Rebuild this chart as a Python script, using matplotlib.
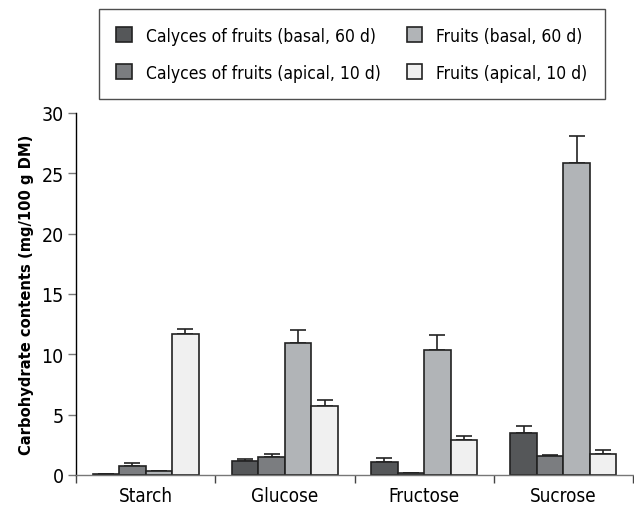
import matplotlib
matplotlib.use('Agg')
import matplotlib.pyplot as plt
import numpy as np

plt.rcParams['font.family'] = ['DejaVu Sans']
plt.rcParams['font.stretch'] = 'condensed'

categories = ['Starch', 'Glucose', 'Fructose', 'Sucrose']
series = ['Calyces of fruits (basal, 60 d)', 'Calyces of fruits (apical, 10 d)',
          'Fruits (basal, 60 d)', 'Fruits (apical, 10 d)']
calyces_basal = [0.05, 1.13, 1.1, 3.48]
calyces_basal_err = [0.0, 0.17, 0.33, 0.6]
calyces_apical = [0.77, 1.47, 0.19, 1.55]
calyces_apical_err = [0.2, 0.23, 0.0, 0.13]
fruits_basal = [0.3, 10.9, 10.38, 25.85]
fruits_basal_err = [0.05, 1.1, 1.19, 2.25]
fruits_apical = [11.68, 5.72, 2.93, 1.71]
fruits_apical_err = [0.42, 0.48, 0.33, 0.36]

values = [calyces_basal, calyces_apical, fruits_basal, fruits_apical]
errors = [calyces_basal_err, calyces_apical_err, fruits_basal_err, fruits_apical_err]
colors = ['#555759', '#7b7d80', '#b1b4b7', '#f0f0f0']

fig = plt.figure(figsize=(6.34, 5.1), dpi=100)
ax = fig.add_axes([0.1199, 0.0667, 0.8785, 0.7098])

x = np.arange(len(categories))
width = 0.19
handles = []
for i, (vals, errs, color, label) in enumerate(zip(values, errors, colors, series)):
	pos = x + (i - 1.5) * width
	bars = ax.bar(pos, vals, width=width, color=color, edgecolor='#222222', linewidth=1.2, label=label, zorder=2)
	handles.append(bars)
	ax.errorbar(pos, vals, yerr=[np.zeros(len(vals)), errs], fmt='none', ecolor='#222222',
		elinewidth=1.2, capsize=6, capthick=1.2, zorder=1)

ax.set_xlim(-0.5, 3.5)
ax.set_ylim(0, 30)
ax.set_yticks(range(0, 31, 5))
ax.set_xticks(x)
ax.set_xticklabels(categories, fontsize=13.5)
ax.set_xticks(np.arange(-0.5, 3.6, 1), minor=True)
ax.tick_params(axis='x', which='major', length=0, pad=8)
ax.tick_params(axis='x', which='minor', length=6, color='#444444', width=1)
ax.tick_params(axis='y', length=6, color='#777777', width=1, labelsize=14, pad=3)
for side in ['top', 'right']:
	ax.spines[side].set_visible(False)
ax.spines['left'].set_linewidth(1)
ax.spines['bottom'].set_color('#777777')
ax.spines['bottom'].set_linewidth(1)
ax.set_ylabel('Carbohydrate contents (mg/100 g DM)', fontsize=11.8, fontweight='bold', labelpad=5)

leg = fig.legend(handles=handles, loc='center', bbox_to_anchor=(0.555, 0.892), ncol=2,
	fontsize=12.5, frameon=True, fancybox=False, edgecolor='#222222', handlelength=0.9,
	handleheight=0.9, columnspacing=1.5, borderpad=1.0, labelspacing=1.1, handletextpad=0.8,
	borderaxespad=0)
leg.get_frame().set_linewidth(1)

fig.savefig('out.png', dpi=100)
